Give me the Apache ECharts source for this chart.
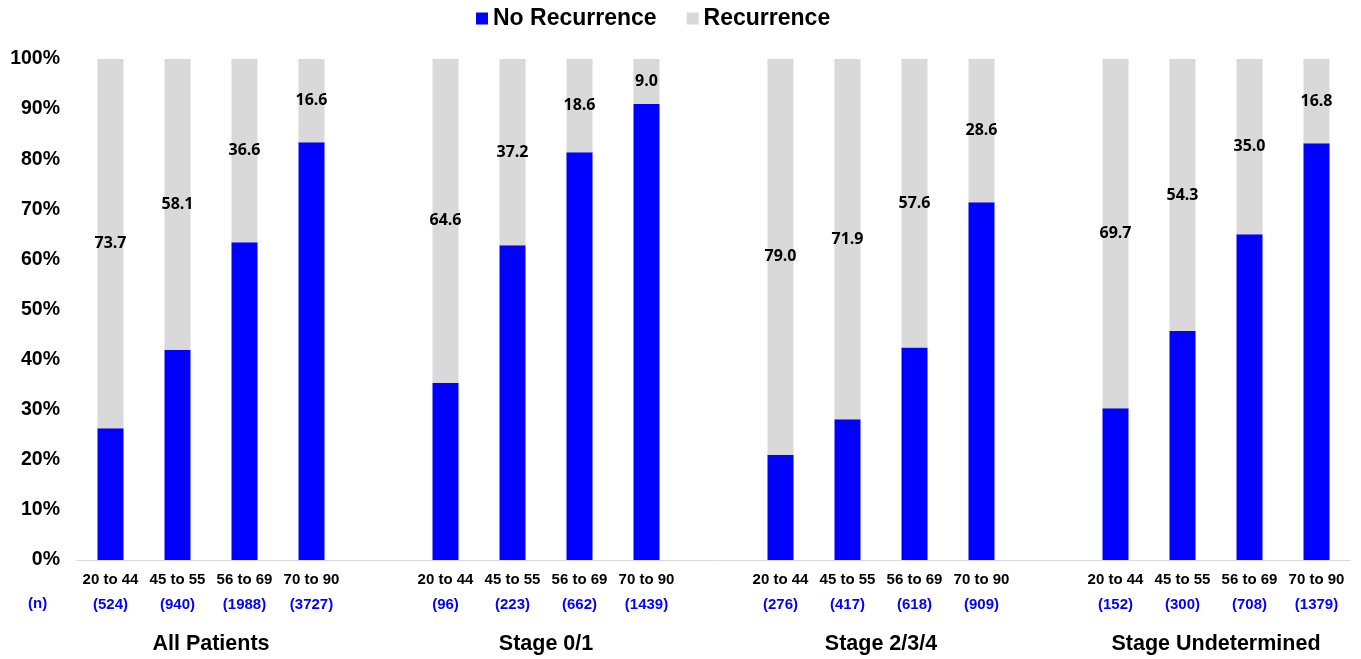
<!DOCTYPE html>
<html>
<head>
<meta charset="utf-8">
<script src="https://cdn.jsdelivr.net/npm/echarts@6/dist/echarts.min.js"></script>
<style>
html,body{margin:0;padding:0;background:#fff;}
#chart{width:1361px;height:659px;}
</style>
</head>
<body>
<div id="chart"></div>
<script>
// Age-group categories (empty strings are gaps between panels)
const ageLabels = ['20 to 44','45 to 55','56 to 69','70 to 90','',
                   '20 to 44','45 to 55','56 to 69','70 to 90','',
                   '20 to 44','45 to 55','56 to 69','70 to 90','',
                   '20 to 44','45 to 55','56 to 69','70 to 90'];
const nLabels = ['(524)','(940)','(1988)','(3727)','',
                 '(96)','(223)','(662)','(1439)','',
                 '(276)','(417)','(618)','(909)','',
                 '(152)','(300)','(708)','(1379)'];
const groupTitles = ['All Patients','Stage 0/1','Stage 2/3/4','Stage Undetermined'];
const noRecurrence = [26.3, 41.9, 63.4, 83.4, null,
                      35.4, 62.8, 81.4, 91.0, null,
                      21.0, 28.1, 42.4, 71.4, null,
                      30.3, 45.7, 65.0, 83.2];
const recurrence = [73.7, 58.1, 36.6, 16.6, null,
                    64.6, 37.2, 18.6, 9.0, null,
                    79.0, 71.9, 57.6, 28.6, null,
                    69.7, 54.3, 35.0, 16.8];
const yTicks = [0,10,20,30,40,50,60,70,80,90,100];

const categories = ageLabels.map((a, i) => a ? a + '|' + nLabels[i] : 'gap' + i);
// helper axis for panel titles: 39 positions without boundary gap -> panel centres at 4,14,24,34
const titleAxis = [];
for (let j = 0; j < 39; j++) titleAxis.push('t' + j);
const titlePos = {4: groupTitles[0], 14: groupTitles[1], 24: groupTitles[2], 34: groupTitles[3]};

const FONT = '"Liberation Sans", Arial, sans-serif';
const chart = echarts.init(document.getElementById('chart'));
chart.setOption({
  animation: false,
  backgroundColor: '#fff',
  legend: {
    top: 2, left: 471, padding: [5, 5],
    icon: 'rect', itemWidth: 12, itemHeight: 12, itemGap: 30,
    textStyle: {fontFamily: FONT, fontWeight: 'bold', fontSize: 23, color: '#000'},
    data: ['No Recurrence', 'Recurrence']
  },
  grid: {left: 77, right: 11, top: 59, bottom: 99, containLabel: false},
  xAxis: [{
    type: 'category',
    data: categories,
    axisLine: {lineStyle: {color: '#d9d9d9', width: 1}},
    axisTick: {show: false},
    axisLabel: {
      interval: 0, margin: 7,
      formatter: function (v) {
        if (v.indexOf('|') < 0) return '';
        const p = v.split('|');
        return '{a|' + p[0] + '}\n{n|' + p[1] + '}';
      },
      rich: {
        a: {fontFamily: FONT, fontWeight: 'bold', fontSize: 15, color: '#000', lineHeight: 25},
        n: {fontFamily: FONT, fontWeight: 'bold', fontSize: 15, color: '#0000ff', lineHeight: 25}
      }
    }
  }, {
    type: 'category',
    position: 'bottom',
    boundaryGap: false,
    data: titleAxis,
    axisLine: {show: false},
    axisTick: {show: false},
    axisLabel: {
      interval: 0, margin: 73,
      formatter: function (v, i) { return titlePos[i] || ''; },
      fontFamily: FONT, fontWeight: 'bold', fontSize: 21.5, color: '#000'
    }
  }],
  yAxis: {
    type: 'value', min: 0, max: 100, interval: 10,
    axisLine: {show: false}, axisTick: {show: false},
    splitLine: {show: false},
    axisLabel: {
      margin: 17,
      formatter: function (v) { return yTicks.indexOf(v) >= 0 ? v + '%' : ''; },
      fontFamily: FONT, fontWeight: 'bold', fontSize: 19.5, color: '#000'
    }
  },
  graphic: [{
    type: 'text', left: 28, top: 596,
    style: {text: '(n)', fill: '#0000ff', font: 'bold 15px ' + FONT}
  }],
  series: [{
    name: 'No Recurrence', type: 'bar', stack: 'total', barWidth: 26,
    itemStyle: {color: '#0000ff'},
    data: noRecurrence
  }, {
    name: 'Recurrence', type: 'bar', stack: 'total', barWidth: 26,
    itemStyle: {color: '#d9d9d9'},
    label: {
      show: true, position: 'inside',
      formatter: function (p) { return p.value == null ? '' : p.value.toFixed(1); },
      fontFamily: '"Open Sans", sans-serif', fontWeight: 'bold', fontSize: 16, color: '#000'
    },
    data: recurrence
  }]
});
</script>
</body>
</html>
